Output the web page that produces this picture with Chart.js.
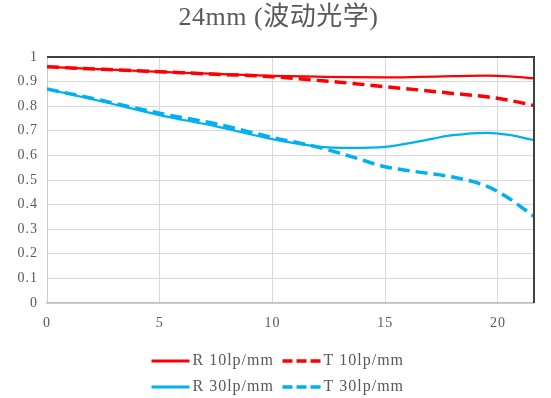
<!DOCTYPE html>
<html>
<head>
<meta charset="utf-8">
<script src="https://cdn.jsdelivr.net/npm/chart.js@4.4.0/dist/chart.umd.min.js"></script>
<style>
  html, body { margin: 0; padding: 0; background: #fff; }
  #wrap { width: 551px; height: 398px; }
</style>
</head>
<body>
<div id="wrap"><canvas id="mtf"></canvas></div>
<script>
const titleText = '24mm (波动光学)';
const seriesNames = ['R 10lp/mm', 'T 10lp/mm', 'R 30lp/mm', 'T 30lp/mm'];

// image height (mm) and MTF values
const fieldPos = [0, 2.5, 5, 7.5, 10, 12, 13.5, 15, 16.5, 18, 19.5, 20.5, 21.6];
const r10 = [0.960, 0.950, 0.940, 0.931, 0.923, 0.920, 0.918, 0.917, 0.919, 0.922, 0.924, 0.921, 0.913];
const t10 = [0.960, 0.950, 0.940, 0.930, 0.920, 0.905, 0.893, 0.879, 0.866, 0.852, 0.838, 0.824, 0.803];
const r30 = [0.870, 0.818, 0.764, 0.718, 0.666, 0.636, 0.631, 0.635, 0.657, 0.682, 0.692, 0.683, 0.662];
const t30 = [0.870, 0.822, 0.771, 0.728, 0.673, 0.634, 0.595, 0.554, 0.532, 0.512, 0.475, 0.425, 0.352];

const red = '#ff0000';
const blue = '#00b0f0';
const textGray = '#595959';
const serif = "'Liberation Serif', 'Noto Sans CJK SC', serif";

function toPoints(values) {
  return fieldPos.map((x, i) => ({ x: x, y: values[i] }));
}

function lineSet(name, values, color, dashed) {
  return {
    label: name,
    data: toPoints(values),
    borderColor: color,
    borderWidth: dashed ? 3.5 : 2.25,
    borderDash: dashed ? [12, 6] : [],
    pointRadius: 0,
    cubicInterpolationMode: 'monotone',
    fill: false,
    order: dashed ? 0 : 1
  };
}

// title, top/right frame and the two-row legend
const decorations = {
  id: 'decorations',
  beforeDraw(chart) {
    chart.ctx.letterSpacing = '1px';
  },
  afterDraw(chart) {
    const ctx = chart.ctx;
    const area = chart.chartArea;
    ctx.save();
    ctx.setLineDash([]);
    ctx.strokeStyle = '#404040';
    ctx.lineWidth = 2;
    ctx.beginPath();
    ctx.moveTo(area.left, area.top);
    ctx.lineTo(area.right, area.top);
    ctx.lineTo(area.right, area.bottom);
    ctx.stroke();

    ctx.fillStyle = textGray;
    ctx.textBaseline = 'middle';
    ctx.textAlign = 'center';
    ctx.letterSpacing = '0.5px';
    ctx.font = '26px ' + serif;
    ctx.fillText(titleText, chart.width / 2 + 3, 18);

    ctx.textAlign = 'left';
    ctx.letterSpacing = '1px';
    ctx.font = '16px ' + serif;
    const startX = chart.width / 2 - 124;
    const colW = 131;
    const rowY = [area.bottom + 58, area.bottom + 84];
    chart.data.datasets.forEach((ds, i) => {
      const x = startX + (i % 2) * colW;
      const y = rowY[Math.floor(i / 2)];
      const dashed = ds.borderDash.length > 0;
      ctx.strokeStyle = ds.borderColor;
      ctx.lineWidth = dashed ? 3.5 : 3;
      ctx.setLineDash(dashed ? [10, 4] : []);
      ctx.beginPath();
      ctx.moveTo(x, y);
      ctx.lineTo(x + 38, y);
      ctx.stroke();
      ctx.fillText(ds.label, x + 41, y);
    });
    ctx.restore();
  }
};

document.addEventListener('DOMContentLoaded', () => {
  const ctx = document.getElementById('mtf').getContext('2d');

  new Chart(ctx, {
    type: 'line',
    data: {
      datasets: [
        lineSet(seriesNames[0], r10, red, false),
        lineSet(seriesNames[1], t10, red, true),
        lineSet(seriesNames[2], r30, blue, false),
        lineSet(seriesNames[3], t30, blue, true)
      ]
    },
    options: {
      responsive: true,
      maintainAspectRatio: false,
      animation: false,
      devicePixelRatio: 1,
      layout: {
        padding: { top: 57, right: 17, left: 0, bottom: 0 }
      },
      scales: {
        x: {
          type: 'linear',
          min: 0,
          max: 21.6,
          afterFit: (scale) => { scale.height = 95; },
          ticks: {
            stepSize: 5,
            includeBounds: false,
            maxRotation: 0,
            padding: 12,
            color: textGray,
            font: { family: serif, size: 14 }
          },
          grid: {
            color: '#d9d9d9',
            drawTicks: false
          },
          border: { color: '#bfbfbf', width: 1.5 }
        },
        y: {
          min: 0,
          max: 1,
          afterFit: (scale) => { scale.width = 47; },
          ticks: {
            stepSize: 0.1,
            padding: 9,
            color: textGray,
            font: { family: serif, size: 14 },
            callback: (value) => String(Number(value.toFixed(1)))
          },
          grid: {
            color: '#d9d9d9',
            drawTicks: false
          },
          border: { color: '#cccccc', width: 1 }
        }
      },
      plugins: {
        legend: { display: false },
        title: { display: false },
        tooltip: { enabled: false }
      }
    },
    plugins: [decorations]
  });
});
</script>
</body>
</html>
